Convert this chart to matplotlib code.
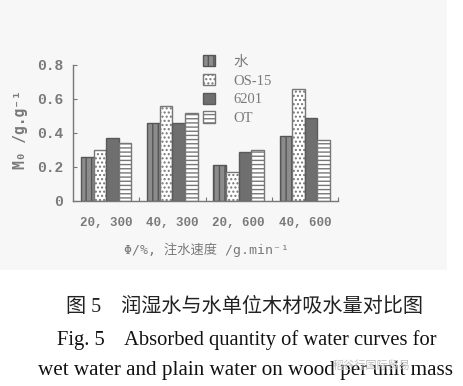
import matplotlib
matplotlib.use("Agg")
import matplotlib.pyplot as plt
import numpy as np
from matplotlib.patches import Patch, Rectangle
from matplotlib.font_manager import FontProperties

# data
groups = ["20, 300", "40, 300", "20, 600", "40, 600"]
series = ["水", "OS-15", "6201", "OT"]
water = [0.26, 0.46, 0.21, 0.38]
os15 = [0.30, 0.56, 0.17, 0.66]
s6201 = [0.37, 0.46, 0.29, 0.49]
ot = [0.34, 0.52, 0.30, 0.36]
yticks = [0, 0.2, 0.4, 0.6, 0.8]
ytick_labels = ["0", "0.2", "0.4", "0.6", "0.8"]

W, H = 463, 386
fig = plt.figure(figsize=(W / 100, H / 100), dpi=100)
fig.patch.set_facecolor("white")

# scanned figure area is slightly off-white
bg = Rectangle((0, 1 - 270 / H), 447 / W, 270 / H, transform=fig.transFigure,
               facecolor="#f7f7f7", edgecolor="none", zorder=-10)
fig.add_artist(bg)

ax = fig.add_axes([73 / W, 1 - 201 / H, 265 / W, 136 / H])
ax.set_facecolor("none")
ax.set_zorder(1)

gray = "#7a7a7a"
styles = [
    dict(facecolor="#8c8c8c", edgecolor="#555555", hatch="|||"),
    dict(facecolor="white", edgecolor="#777777", hatch="...."),
    dict(facecolor="#6f6f6f", edgecolor="#5a5a5a", hatch=None),
    dict(facecolor="white", edgecolor="#777777", hatch="----"),
]
values = [water, os15, s6201, ot]
x = np.arange(len(groups))
bw = 0.19
for i, (vals, st) in enumerate(zip(values, styles)):
    ax.bar(x + (i - 1.5) * bw, vals, bw, linewidth=1.0, **st)

ax.set_xlim(-0.5, 3.5)
ax.set_ylim(0, 0.8)
for s in ["top", "right"]:
    ax.spines[s].set_visible(False)
for s in ["left", "bottom"]:
    ax.spines[s].set_color("#777777")
    ax.spines[s].set_linewidth(1.0)

mono = "Liberation Mono"
ax.set_yticks(yticks)
ax.set_yticklabels(ytick_labels, family=mono, fontsize=10.5, color=gray,
                   fontweight="bold")
ax.tick_params(axis="y", direction="in", length=3, color="#777777", pad=7)
ax.set_xticks([0.5, 1.5, 2.5, 3.5])
ax.set_xticklabels([])
ax.tick_params(axis="x", direction="in", length=3, color="#777777")
for xi, g in zip(x, groups):
    ax.text(xi, -0.13, g, ha="center", va="center", family=mono,
            fontsize=9, color=gray, fontweight="bold")

fig.text(206 / W, 1 - 250 / H, "Φ/%, 注水速度 /g.min⁻¹", ha="center",
         va="center", family=["DejaVu Sans Mono", "Noto Sans CJK SC"],
         fontsize=9.5, color=gray)
fig.text(21 / W, 1 - 130 / H, "M₀ /g.g⁻¹", ha="center", va="center",
         rotation=90, family="DejaVu Sans Mono", fontsize=10.5, color=gray,
         fontweight="bold")

handles = [Patch(linewidth=1.0, **st) for st in styles]
leg = fig.legend(handles, series, loc="upper left",
                 bbox_to_anchor=(190 / W, 1 - 42 / H), frameon=False,
                 prop=FontProperties(family=["Liberation Serif", "Noto Sans CJK SC"], size=10.5),
                 handlelength=0.8, handleheight=0.8, handletextpad=1.3,
                 labelspacing=0.35)
for t in leg.get_texts():
    t.set_color(gray)

# caption
cap_zh = ["Liberation Serif", "Noto Sans CJK SC"]
fig.text(245 / W, 1 - 307 / H, "图 5    润湿水与水单位木材吸水量对比图", ha="center",
         va="center", family=cap_zh, fontsize=14.5, color="#222222")
fig.text(247 / W, 1 - 340 / H, "Fig. 5    Absorbed quantity of water curves for",
         ha="center", va="center", family="Liberation Serif", fontsize=14.8,
         color="#111111")
fig.text(246 / W, 1 - 370 / H, "wet water and plain water on wood per unit mass",
         ha="center", va="center", family="Liberation Serif", fontsize=15.2,
         color="#111111")
fig.text(372 / W, 1 - 366 / H, "稻谷行国际贸易", ha="center", va="center",
         family="Noto Sans CJK SC", fontsize=8, color="#bbbbbb")

fig.savefig("out.png", dpi=100)
